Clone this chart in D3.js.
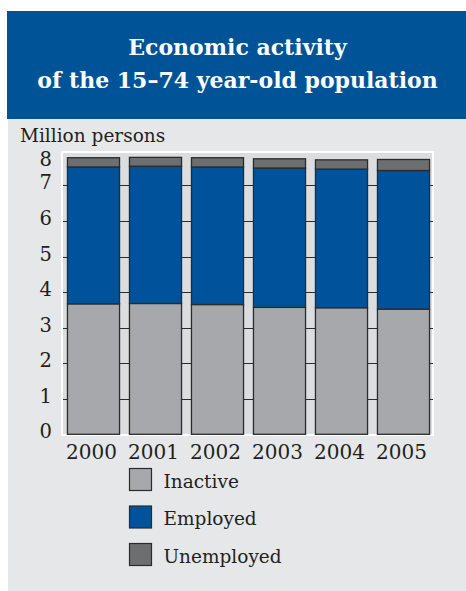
<!DOCTYPE html>
<html>
<head>
<meta charset="utf-8">
<script src="https://cdn.jsdelivr.net/npm/d3@7"></script>
<style>
  html, body { margin: 0; padding: 0; background: #ffffff; }
  svg { display: block; }
  text { font-family: "DejaVu Serif", "Liberation Serif", serif; }
</style>
</head>
<body>
<svg id="chart" width="466" height="591"></svg>
<script>
// Economic activity of the 15–74 year-old population, million persons
const years = ["2000", "2001", "2002", "2003", "2004", "2005"];
const inactive = [3.67, 3.68, 3.65, 3.57, 3.56, 3.52];
const employed = [3.85, 3.86, 3.87, 3.92, 3.90, 3.90];
const unemployed = [0.26, 0.25, 0.26, 0.26, 0.26, 0.31];
const seriesNames = ["Inactive", "Employed", "Unemployed"];
const seriesColors = ["#a7a8ab", "#00539a", "#6d6e70"];
const yTicks = [0, 1, 2, 3, 4, 5, 6, 7, 8];
const titleLines = ["Economic activity", "of the 15–74 year-old population"];
const unitLabel = "Million persons";

const svg = d3.select("#chart");

// panel background and title band
svg.append("rect").attr("x", 8).attr("y", 11).attr("width", 458).attr("height", 580)
  .attr("fill", "#e6e7e8");
svg.append("rect").attr("x", 7).attr("y", 11).attr("width", 459).attr("height", 108)
  .attr("fill", "#005396");
svg.append("g").selectAll("text").data(titleLines).join("text")
  .attr("x", 237.5).attr("y", (d, i) => 55 + i * 33)
  .attr("text-anchor", "middle")
  .attr("fill", "#ffffff").attr("font-weight", "bold").attr("font-size", 22)
  .text(d => d);

// plot frame
const plot = { left: 61, top: 151, right: 434, bottom: 436 };
svg.append("rect").attr("x", plot.left).attr("y", plot.top)
  .attr("width", plot.right - plot.left).attr("height", plot.bottom - plot.top)
  .attr("fill", "#ffffff");
svg.append("rect").attr("x", plot.left + 2).attr("y", plot.top + 2)
  .attr("width", plot.right - plot.left - 4).attr("height", plot.bottom - plot.top - 4)
  .attr("fill", "#dcdddf");

const x = d3.scaleBand().domain(years).range([62.5, 434.5])
  .paddingInner(0.16).paddingOuter(0.08);
const y = d3.scaleLinear().domain([0, 8]).range([434.3, 149.9]);

// grid lines behind bars
svg.append("g").selectAll("line").data(yTicks.filter(t => t > 0 && t < 8)).join("line")
  .attr("x1", plot.left + 2).attr("x2", plot.right - 1)
  .attr("y1", d => Math.round(y(d)) + 0.5).attr("y2", d => Math.round(y(d)) + 0.5)
  .attr("stroke", "#2b2b2b").attr("stroke-width", 1.2);

// stacked bars
const rows = years.map((yr, i) => ({ year: yr, Inactive: inactive[i], Employed: employed[i], Unemployed: unemployed[i] }));
const stack = d3.stack().keys(seriesNames)(rows);
svg.append("g").selectAll("g").data(stack).join("g")
  .attr("fill", (d, i) => seriesColors[i])
  .selectAll("rect").data(d => d).join("rect")
  .attr("x", d => x(d.data.year))
  .attr("y", d => y(d[1]))
  .attr("width", x.bandwidth())
  .attr("height", d => y(d[0]) - y(d[1]))
  .attr("stroke", "#2b2b2b").attr("stroke-width", 1.3);

// y axis labels (top label held inside the frame)
svg.append("text").attr("x", 20).attr("y", 142).attr("font-size", 18.5)
  .attr("fill", "#231f20").text(unitLabel);
svg.append("g").selectAll("text").data(yTicks).join("text")
  .attr("x", 52).attr("y", d => Math.max(y(d) + 4, 166))
  .attr("text-anchor", "end").attr("font-size", 19.5).attr("fill", "#231f20")
  .text(d => d);

// x axis labels
svg.append("g").selectAll("text").data(years).join("text")
  .attr("x", d => x(d) + x.bandwidth() / 2 - 2).attr("y", 459)
  .attr("text-anchor", "middle").attr("font-size", 20).attr("fill", "#231f20")
  .text(d => d);

// legend
const legend = svg.append("g").selectAll("g").data(seriesNames).join("g")
  .attr("transform", (d, i) => `translate(129.5, ${468.5 + i * 37.5})`);
legend.append("rect").attr("width", 22).attr("height", 22)
  .attr("fill", (d, i) => seriesColors[i]).attr("stroke", "#2b2b2b").attr("stroke-width", 1.2);
legend.append("text").attr("x", 34).attr("y", 19).attr("font-size", 18.5)
  .attr("fill", "#231f20").text(d => d);
</script>
</body>
</html>
